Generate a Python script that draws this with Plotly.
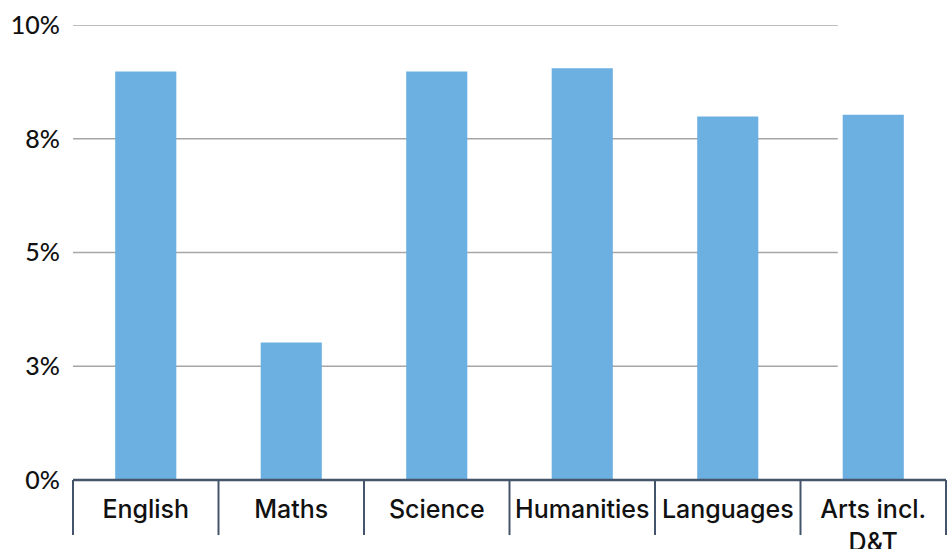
import plotly.graph_objects as go

categories = ["English", "Maths", "Science", "Humanities", "Languages", "Arts incl.<br>D&T"]
values = [8.98, 3.02, 8.98, 9.05, 7.99, 8.03]
y_tickvals = [0, 2.5, 5, 7.5, 10]
y_ticktext = ["0%", "3%", "5%", "8%", "10%"]

bar_color = "#6cafe1"
axis_color = "#44546a"
grid_color = "#a6a6a6"

fig = go.Figure(go.Bar(x=categories, y=values, marker=dict(color=bar_color, line=dict(width=0))))

shapes = []
# gridlines (stop short of right edge, as in the reference)
for v in y_tickvals[1:]:
    shapes.append(dict(type="line", xref="paper", yref="y", x0=0, x1=0.876, y0=v, y1=v,
                       line=dict(color=grid_color, width=1.6), layer="below"))
# category dividers extending below axis
n = len(categories)
for i in range(n + 1):
    shapes.append(dict(type="line", xref="paper", yref="paper", x0=i / n, x1=i / n, y0=0, y1=-0.121,
                       line=dict(color=axis_color, width=2), layer="above"))
shapes.append(dict(type="line", xref="paper", yref="paper", x0=0, x1=1, y0=0, y1=0,
                   line=dict(color=axis_color, width=2.5), layer="above"))

fig.update_layout(
    width=952, height=549,
    margin=dict(l=73, r=6, t=25, b=69, autoexpand=False),
    plot_bgcolor="white", paper_bgcolor="white",
    bargap=0.58,
    showlegend=False,
    shapes=shapes,
    font=dict(family="Inter, sans-serif", color="#111111"),
    xaxis=dict(showgrid=False, showline=False, ticks="", automargin=False,
               tickfont=dict(size=25, weight=500),
               ticklabelstandoff=12, fixedrange=True),
    yaxis=dict(range=[0, 10], tickvals=y_tickvals, ticktext=y_ticktext, showgrid=False, automargin=False,
               zeroline=False, showline=False, ticks="",
               tickfont=dict(size=25, family="Lato, sans-serif", weight=500),
               ticklabelstandoff=12),
)

fig.write_html("out.html")
